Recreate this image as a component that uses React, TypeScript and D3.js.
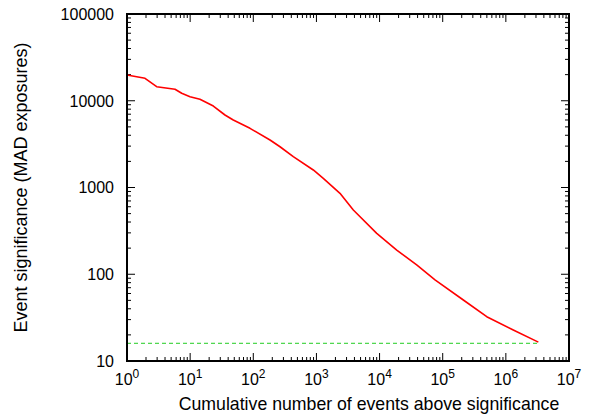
import * as d3 from 'd3'

// cumulative count of events (x) vs significance (y)
const eventCounts = [1, 1.93, 2.95, 5.76, 7.35, 9.95, 14.3, 23.3, 35.6, 48.2, 88.7, 184, 265, 430, 892, 1285, 2360, 3840, 9020, 18700, 38700, 75500, 212000, 498000, 1310000, 3270000]
const significance = [19800, 18150, 14520, 13550, 12190, 11140, 10400, 8690, 6850, 5995, 4810, 3530, 2950, 2265, 1592, 1277, 857, 551, 296, 190, 128, 86, 50.5, 32.4, 22.8, 16.5]
const threshold = 16
const xTickExps = [0, 1, 2, 3, 4, 5, 6, 7]
const yTickLabels = ['10', '100', '1000', '10000', '100000']

const W = 591
const H = 416
const margin = { top: 14, right: 22, bottom: 55, left: 127 }

export default function App() {
  const innerW = W - margin.left - margin.right
  const innerH = H - margin.top - margin.bottom

  const x = d3.scaleLog().domain([1, 1e7]).range([0, innerW])
  const y = d3.scaleLog().domain([10, 100000]).range([innerH, 0])

  const line = d3
    .line<number>()
    .x((_, i) => x(eventCounts[i]))
    .y((d) => y(d))

  const xMinor: number[] = []
  for (let e = 0; e < 7; e++) for (let k = 2; k < 10; k++) xMinor.push(k * 10 ** e)
  const yMinor: number[] = []
  for (let e = 1; e < 5; e++) for (let k = 2; k < 10; k++) yMinor.push(k * 10 ** e)

  const font = 'Liberation Sans, Arial, Helvetica, sans-serif'
  const major = 8
  const minor = 4

  return (
    <svg width={W} height={H} style={{ position: 'absolute', left: 0, top: 0, background: '#fff' }} fontFamily={font}>
      <g transform={`translate(${margin.left},${margin.top})`}>
        {/* x ticks, bottom and top */}
        {xTickExps.map((e) => (
          <g key={'xm' + e}>
            <line x1={x(10 ** e)} x2={x(10 ** e)} y1={innerH} y2={innerH - major} stroke="#000" />
            <line x1={x(10 ** e)} x2={x(10 ** e)} y1={0} y2={major} stroke="#000" />
            <text x={x(10 ** e)} y={innerH + 24} textAnchor="middle" fontSize={16} fill="#000">
              10<tspan dy={-7} fontSize={12}>{e}</tspan>
            </text>
          </g>
        ))}
        {xMinor.map((v) => (
          <g key={'xn' + v}>
            <line x1={x(v)} x2={x(v)} y1={innerH} y2={innerH - minor} stroke="#000" />
            <line x1={x(v)} x2={x(v)} y1={0} y2={minor} stroke="#000" />
          </g>
        ))}
        {/* y ticks, left and right */}
        {yTickLabels.map((t) => (
          <g key={'ym' + t}>
            <line x1={0} x2={major} y1={y(+t)} y2={y(+t)} stroke="#000" />
            <line x1={innerW} x2={innerW - major} y1={y(+t)} y2={y(+t)} stroke="#000" />
            <text x={-13} y={y(+t)} dy="0.36em" textAnchor="end" fontSize={16} fill="#000">
              {t}
            </text>
          </g>
        ))}
        {yMinor.map((v) => (
          <g key={'yn' + v}>
            <line x1={0} x2={minor} y1={y(v)} y2={y(v)} stroke="#000" />
            <line x1={innerW} x2={innerW - minor} y1={y(v)} y2={y(v)} stroke="#000" />
          </g>
        ))}

        {/* significance threshold */}
        <line
          x1={0}
          x2={x(eventCounts[eventCounts.length - 1])}
          y1={y(threshold)}
          y2={y(threshold)}
          stroke="#22cc22"
          strokeWidth={1}
          strokeDasharray="4,3"
        />

        <path d={line(significance) || ''} fill="none" stroke="#ff0000" strokeWidth={1.6} strokeLinejoin="round" />

        <rect x={0} y={0} width={innerW} height={innerH} fill="none" stroke="#000" strokeWidth={2} />

        <text x={innerW / 2 + 21} y={innerH + 49} textAnchor="middle" fontSize={17.7} fill="#000">
          Cumulative number of events above significance
        </text>
        <text
          transform={`translate(${-100},${innerH / 2}) rotate(-90)`}
          textAnchor="middle"
          fontSize={18}
          fill="#000"
        >
          Event significance (MAD exposures)
        </text>
      </g>
    </svg>
  )
}
